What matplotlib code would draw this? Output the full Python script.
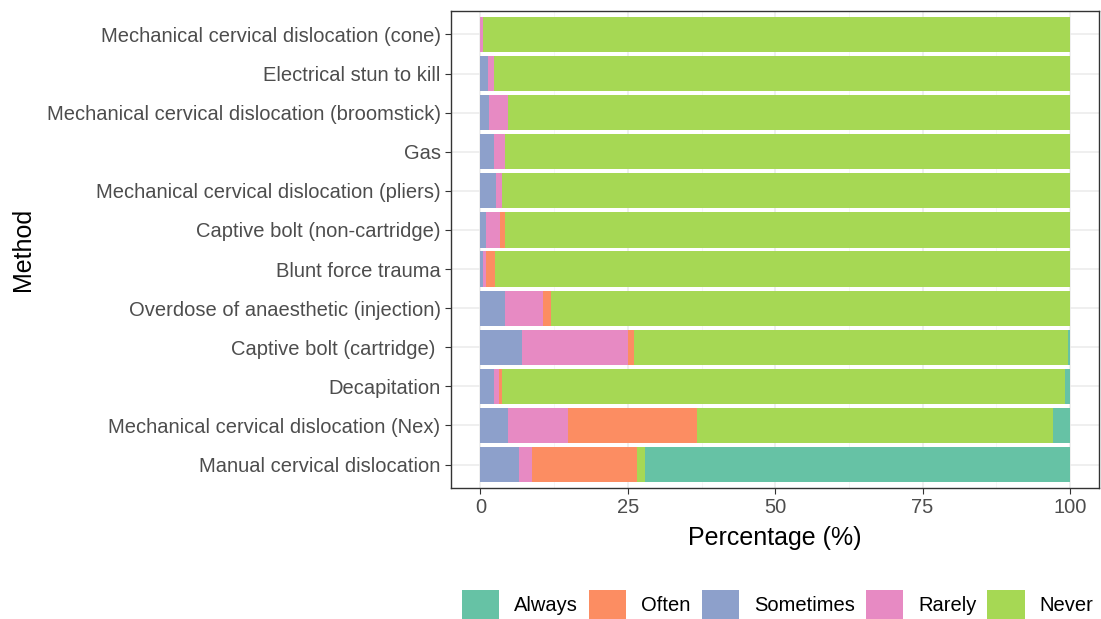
import matplotlib.pyplot as plt
from matplotlib.patches import Patch
from matplotlib.ticker import MultipleLocator

plt.rcParams['font.family'] = ['Liberation Sans', 'DejaVu Sans']

# methods, top to bottom as shown
methods = [
    'Mechanical cervical dislocation (cone)',
    'Electrical stun to kill',
    'Mechanical cervical dislocation (broomstick)',
    'Gas',
    'Mechanical cervical dislocation (pliers)',
    'Captive bolt (non-cartridge)',
    'Blunt force trauma',
    'Overdose of anaesthetic (injection)',
    'Captive bolt (cartridge) ',
    'Decapitation',
    'Mechanical cervical dislocation (Nex)',
    'Manual cervical dislocation',
]

# percentages per response (estimated from the figure)
sometimes = [0.0, 1.3, 1.4, 2.3, 2.7, 0.9, 0.5, 4.2, 7.0, 2.3, 4.7, 6.5]
rarely    = [0.5, 1.0, 3.3, 1.9, 1.0, 2.4, 0.5, 6.4, 18.1, 0.9, 10.2, 2.3]
often     = [0.0, 0.0, 0.0, 0.0, 0.0, 0.8, 1.4, 1.4, 0.9, 0.5, 21.9, 17.7]
never     = [99.5, 97.7, 95.3, 95.8, 96.3, 95.9, 97.6, 88.0, 73.6, 95.4, 60.4, 1.4]
always    = [0.0, 0.0, 0.0, 0.0, 0.0, 0.0, 0.0, 0.0, 0.4, 0.9, 2.8, 72.1]

legend_order = ['Always', 'Often', 'Sometimes', 'Rarely', 'Never']
colors = {'Always': '#66C2A5', 'Often': '#FC8D62', 'Sometimes': '#8DA0CB',
          'Rarely': '#E78AC3', 'Never': '#A6D854'}

fig = plt.figure(figsize=(11.01, 6.19), dpi=100)
ax = fig.add_axes([0.4096, 0.2116, 0.589, 0.7706])

y = list(range(len(methods)))
left = [0.0] * len(methods)
# stacking order as in the original plot
for name, vals in [('Sometimes', sometimes), ('Rarely', rarely), ('Often', often),
                   ('Never', never), ('Always', always)]:
    ax.barh(y, vals, left=left, height=0.9, color=colors[name], linewidth=0, zorder=3)
    left = [l + v for l, v in zip(left, vals)]

ax.set_ylim(len(methods) - 0.4, -0.6)
ax.set_xlim(-5, 105)
ax.set_yticks(y)
ax.set_yticklabels(methods)
ax.xaxis.set_major_locator(MultipleLocator(25))
ax.xaxis.set_minor_locator(MultipleLocator(12.5))
ax.grid(True, which='major', color='#EBEBEB', linewidth=1.1, zorder=0)
ax.grid(True, which='minor', axis='x', color='#F5F5F5', linewidth=0.6, zorder=0)
ax.tick_params(which='major', length=4, color='#333333', labelsize=14.5,
               labelcolor='#4D4D4D')
ax.tick_params(which='minor', length=0)
for s in ax.spines.values():
    s.set_color('#333333')
    s.set_linewidth(1.0)

ax.set_xlabel('Percentage (%)', fontsize=18, labelpad=6)
ax.set_ylabel('Method', fontsize=18, labelpad=8)

handles = [Patch(facecolor=colors[k], edgecolor='none') for k in legend_order]
fig.legend(handles, legend_order,
           loc='upper left', bbox_to_anchor=(462 / 1101, 1 - 590 / 619), ncol=5,
           frameon=False, fontsize=14.5, handlelength=1.84, handleheight=1.84,
           handletextpad=0.75, columnspacing=0.55, borderaxespad=0, borderpad=0)

fig.savefig('out.png', dpi=100)
